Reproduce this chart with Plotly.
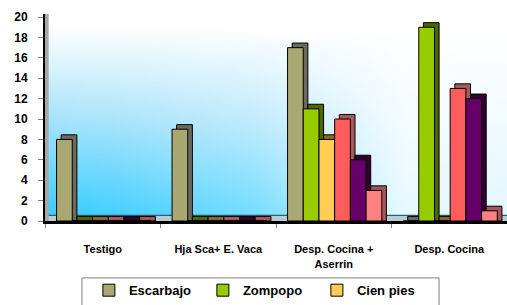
import base64
import plotly.graph_objects as go

categories = ["Testigo", "Hja Sca+ E. Vaca", "Desp. Cocina +<br>Aserrin", "Desp. Cocina"]
series_names = ["Escarbajo", "Zompopo", "Cien pies", "Serie 4", "Serie 5", "Serie 6"]
escarbajo = [8, 9, 17, 0]
zompopo = [0, 0, 11, 19]
cien_pies = [0, 0, 8, 0]
serie4 = [0, 0, 10, 13]
serie5 = [0, 0, 6, 12]
serie6 = [0, 0, 3, 1]
y_ticks = [0, 2, 4, 6, 8, 10, 12, 14, 16, 18, 20]

series_values = [escarbajo, zompopo, cien_pies, serie4, serie5, serie6]
front_colors = ["#a9a772", "#99cc00", "#ffcc55", "#ff5c5c", "#660066", "#ff8080"]
side_colors = ["#6a6a5e", "#4d6600", "#8a6a20", "#a85a5a", "#33002e", "#a85555"]
# only the first legend row is visible in the original
in_legend = [True, True, True, False, False, False]

bar_w = 0.136
start = -0.40
dx = 0.040
dy = 0.45

fig = go.Figure()

# side/top faces (3D depth), drawn first
for i, (name, vals) in enumerate(zip(series_names, series_values)):
    fig.add_trace(go.Bar(
        x=categories, y=[v + dy for v in vals], base=0,
        offset=start + i * bar_w + dx, width=bar_w,
        marker=dict(color=side_colors[i], line=dict(color="#000000", width=1)),
        showlegend=False, hoverinfo="skip",
    ))

# front faces
for i, (name, vals) in enumerate(zip(series_names, series_values)):
    fig.add_trace(go.Bar(
        x=categories, y=vals, name=name,
        offset=start + i * bar_w, width=bar_w,
        marker=dict(color=front_colors[i], line=dict(color="#000000", width=1)),
        showlegend=in_legend[i],
    ))

svg = (
    '<svg xmlns="http://www.w3.org/2000/svg" width="462" height="207" '
    'viewBox="0 0 462 207" preserveAspectRatio="none">'
    '<defs>'
    '<linearGradient id="v" x1="0" y1="0" x2="0" y2="1">'
    '<stop offset="0" stop-color="#ffffff"/>'
    '<stop offset="0.06" stop-color="#ffffff"/>'
    '<stop offset="0.5" stop-color="#a9e3fb"/>'
    '<stop offset="1" stop-color="#33ccff"/>'
    '</linearGradient>'
    '<linearGradient id="h" x1="0" y1="0" x2="1" y2="0">'
    '<stop offset="0" stop-color="#ffffff" stop-opacity="0"/>'
    '<stop offset="0.15" stop-color="#ffffff" stop-opacity="0.05"/>'
    '<stop offset="0.45" stop-color="#ffffff" stop-opacity="0.3"/>'
    '<stop offset="0.62" stop-color="#ffffff" stop-opacity="0.6"/>'
    '<stop offset="0.78" stop-color="#ffffff" stop-opacity="0.88"/>'
    '<stop offset="1" stop-color="#ffffff" stop-opacity="0.85"/>'
    '</linearGradient>'
    '</defs>'
    '<rect x="0" y="0" width="462" height="207" fill="url(#v)"/>'
    '<rect x="0" y="0" width="462" height="207" fill="url(#h)"/>'
    '</svg>'
)
src = "data:image/svg+xml;base64," + base64.b64encode(svg.encode()).decode()

fig.update_layout(
    width=507, height=305,
    margin=dict(l=45, r=0, t=14, b=84, autoexpand=False),
    paper_bgcolor="#ffffff",
    plot_bgcolor="rgba(0,0,0,0)",
    barmode="overlay",
    hovermode=False,
    font=dict(family="Liberation Sans", color="#000000"),
    images=[dict(source=src, xref="paper", yref="paper", x=0, y=1,
                 sizex=1, sizey=1, sizing="stretch", layer="below",
                 xanchor="left", yanchor="top")],
    shapes=[
        # floor
        dict(type="rect", xref="paper", yref="y", x0=0, x1=1, y0=0, y1=0.55,
             fillcolor="#b9ccd6", line=dict(width=0), layer="below"),
        dict(type="line", xref="paper", yref="y", x0=0, x1=1, y0=0.55, y1=0.55,
             line=dict(color="#2f5f70", width=1.2), layer="below"),
        # left wall
        dict(type="rect", xref="paper", yref="paper", x0=0, x1=0.008, y0=0, y1=1,
             fillcolor="#a8a8a8", line=dict(width=0), layer="below"),
        # legend frame (bottom part lies beyond the page, as in the original)
        dict(type="rect", xref="paper", yref="paper", x0=0.080, x1=0.853,
             y0=-0.50, y1=-0.275, fillcolor="rgba(0,0,0,0)",
             line=dict(color="#808080", width=1)),
    ],
    legend=dict(
        orientation="h", x=0.095, xanchor="left", y=-0.262, yanchor="top",
        borderwidth=0, bgcolor="rgba(0,0,0,0)",
        font=dict(family="Liberation Sans", size=13, color="#000000", weight="bold"),
        entrywidth=69, itemwidth=30, traceorder="normal",
    ),
    xaxis=dict(
        type="category", range=[-0.5, 3.5], tickson="boundaries",
        showline=True, linecolor="#000000", linewidth=3,
        ticks="outside", ticklen=4, tickcolor="#808080",
        ticklabelstandoff=16,
        tickfont=dict(family="Liberation Sans", size=11, weight="bold"),
        showgrid=False, zeroline=False, fixedrange=True,
    ),
    yaxis=dict(
        range=[0, 20.3], tickvals=y_ticks, ticktext=[str(t) for t in y_ticks],
        showline=True, linecolor="#000000", linewidth=2,
        ticks="outside", ticklen=5, tickcolor="#808080",
        ticklabelstandoff=8,
        tickfont=dict(family="Liberation Sans", size=12, weight="bold"),
        showgrid=False, zeroline=False, fixedrange=True,
    ),
)

fig.write_html(
    "out.html",
    config={"displayModeBar": False},
    post_script="document.body.style.margin='0';document.body.style.overflow='hidden';",
)
